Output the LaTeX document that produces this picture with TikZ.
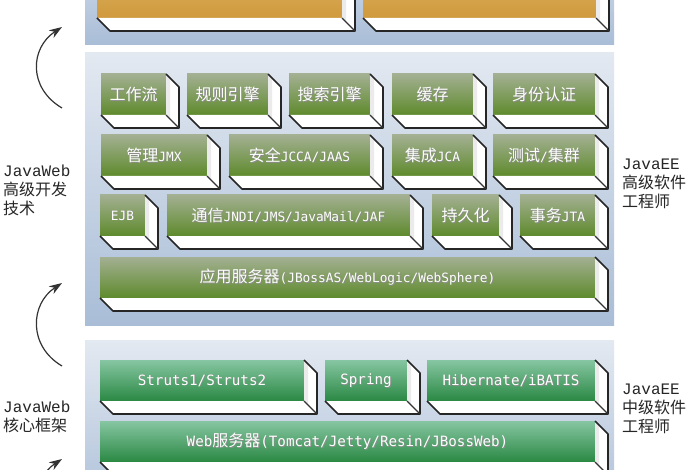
\documentclass[tikz,border=0pt]{standalone}
\usepackage{fontspec}
\setmainfont{Liberation Serif}
\newfontfamily\cjk{Noto Sans CJK SC}
\newfontfamily\boxmono{DejaVu Sans Mono}
\newfontfamily\lblmono{Liberation Mono}
\usetikzlibrary{arrows.meta}
\newcommand\C[1]{{\fontsize{16}{18}\selectfont\cjk #1}}
\newcommand\BigTxt[1]{{\fontsize{14.2}{16}\selectfont #1}}
\definecolor{panelTop}{HTML}{E3E9F1}
\definecolor{panelBot}{HTML}{A9BDD7}
\definecolor{gTop}{HTML}{A3B092}
\definecolor{gBot}{HTML}{5E8A2C}
\definecolor{tTop}{HTML}{86C6A2}
\definecolor{tBot}{HTML}{2A8843}
\definecolor{oTop}{HTML}{DDB768}
\definecolor{oBot}{HTML}{D0993C}
\tikzset{
  edge/.style={draw=black!85,line width=1.6pt,line join=round},
  inneredge/.style={draw=black!80,line width=1.3pt},
  boxtext/.style={text=white,font=\fontsize{12.8}{15}\selectfont\boxmono,inner sep=0pt},
  boxshadow/.style={text=black!45,font=\fontsize{12.8}{15}\selectfont\boxmono,inner sep=0pt},
  sidelabel/.style={align=left,anchor=west,inner sep=0pt,text=black!85,font=\fontsize{16}{19}\selectfont},
  curarrow/.style={draw=black!80,line width=1.2pt,-{Stealth[length=13pt,width=9pt]}},
  panel/.style={top color=panelTop,bottom color=panelBot}
}
% name, x1, y1, x2, y2, top colour, bottom colour, text
\newcommand\bevel[8]{%
  \path[top color=#6,bottom color=#7] (#2,#3) rectangle ({#4-13},{#5-13});
  \fill[white] ({#4-13},#3) -- (#4,{#3+13}) -- (#4,#5) -- ({#4-13},{#5-13}) -- cycle;
  \fill[black!8] ({#4-13},#3) -- ({#4-9},{#3+4}) -- ({#4-9},{#5-9}) -- ({#4-13},{#5-13}) -- cycle;
  \fill[white] (#2,{#5-13}) -- ({#4-13},{#5-13}) -- (#4,#5) -- ({#2+13},#5) -- cycle;
  \draw[edge] ({#4-13},#3) -- (#4,{#3+13}) -- (#4,#5) -- ({#2+13},#5) -- (#2,{#5-13});
  \draw[inneredge] ({#4-13},{#5-13}) -- (#4,#5);
  \node[boxshadow] (#1s) at ({(#2+#4-13)/2+0.8},{(#3+#5-13)/2+0.8}) {#8};
  \node[boxtext] (#1) at ({(#2+#4-13)/2},{(#3+#5-13)/2}) {#8};
}
\begin{document}
\begin{tikzpicture}[x=1pt,y=-1pt]
\useasboundingbox (0,0) rectangle (700,470);
\clip (0,0) rectangle (700,470);
\fill[white] (0,0) rectangle (700,470);
% panels
\path[top color=panelTop!50!panelBot,bottom color=panelBot] (85,-20) rectangle (614,45);
\path[panel] (85,53) rectangle (614,325);
\path[panel] (85,340) rectangle (614,520);
% top orange boxes
\bevel{o1}{97}{-40}{355}{31}{oTop}{oBot}{}
\bevel{o2}{363}{-40}{609}{31}{oTop}{oBot}{}
% row 1
\bevel{b11}{101}{74}{179}{128}{gTop}{gBot}{\C{工作流}}
\bevel{b12}{187}{74}{281}{128}{gTop}{gBot}{\C{规则引擎}}
\bevel{b13}{289}{74}{383}{128}{gTop}{gBot}{\C{搜索引擎}}
\bevel{b14}{392}{74}{486}{128}{gTop}{gBot}{\C{缓存}}
\bevel{b15}{493}{74}{608}{128}{gTop}{gBot}{\C{身份认证}}
% row 2
\bevel{b21}{101}{135}{220}{189}{gTop}{gBot}{\C{管理}JMX}
\bevel{b22}{229}{135}{383}{189}{gTop}{gBot}{\C{安全}JCCA/JAAS}
\bevel{b23}{392}{135}{486}{189}{gTop}{gBot}{\C{集成}JCA}
\bevel{b24}{493}{135}{608}{189}{gTop}{gBot}{\C{测试}/\C{集群}}
% row 3
\bevel{b31}{100}{195}{158}{249}{gTop}{gBot}{EJB}
\bevel{b32}{167}{195}{423}{249}{gTop}{gBot}{\C{通信}JNDI/JMS/JavaMail/JAF}
\bevel{b33}{432}{195}{512}{249}{gTop}{gBot}{\C{持久化}}
\bevel{b34}{520}{195}{608}{249}{gTop}{gBot}{\C{事务}JTA}
% row 4
\bevel{b41}{100}{257}{608}{311}{gTop}{gBot}{\C{应用服务器}(JBossAS/WebLogic/WebSphere)}
% bottom panel
\bevel{c11}{100}{360}{317}{414}{tTop}{tBot}{\BigTxt{Struts1/Struts2}}
\bevel{c12}{325}{360}{420}{414}{tTop}{tBot}{\BigTxt{Spring}}
\bevel{c13}{427}{360}{608}{414}{tTop}{tBot}{\BigTxt{Hibernate/iBATIS}}
\bevel{c21}{100}{421}{608}{475}{tTop}{tBot}{\BigTxt{Web\C{服务器}(Tomcat/Jetty/Resin/JBossWeb)}}
% side labels
\node[sidelabel] (l1) at (3,190) {{\lblmono JavaWeb}\\\C{高级开发}\\\C{技术}};
\node[sidelabel] (l2) at (3,417) {{\lblmono JavaWeb}\\\C{核心框架}};
\node[sidelabel] (r1) at (622,184) {{\lblmono JavaEE}\\\C{高级软件}\\\C{工程师}};
\node[sidelabel] (r2) at (622,409) {{\lblmono JavaEE}\\\C{中级软件}\\\C{工程师}};
% arrows
\coordinate (a1s) at (62,108);
\coordinate (a1e) at (62,27);
\coordinate (a2s) at (62,366);
\coordinate (a2e) at (62,283);
\coordinate (a3s) at (62,545);
\coordinate (a3e) at (62,459);
\draw[curarrow] (a1s) .. controls (28,88) and (30,48) .. (a1e);
\draw[curarrow] (a2s) .. controls (28,346) and (30,304) .. (a2e);
\draw[curarrow] (a3s) .. controls (28,525) and (30,480) .. (a3e);
\end{tikzpicture}
\end{document}
